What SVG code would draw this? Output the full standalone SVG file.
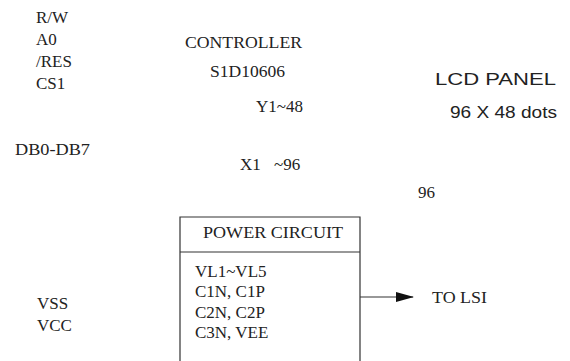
<svg xmlns="http://www.w3.org/2000/svg" width="570" height="361" viewBox="0 0 570 361">
  <defs>
    <style>
      .serif { font-family: "Liberation Serif", "Times New Roman", serif; font-size: 17px; fill: #222; }
      .sans { font-family: "Liberation Sans", Arial, sans-serif; font-size: 17px; fill: #222; }
      .line { stroke: #333; stroke-width: 1.2; fill: none; }
    </style>
    <marker id="arrow" markerWidth="18" markerHeight="10" refX="17" refY="5" orient="auto" markerUnits="userSpaceOnUse">
      <path d="M0,0 L18,5 L0,10 Z" fill="#111"/>
    </marker>
  </defs>
  <rect width="570" height="361" fill="#fff"/>

  <g id="mpu-signals">
    <text class="serif" x="36" y="23">R/W</text>
    <text class="serif" x="36" y="45">A0</text>
    <text class="serif" x="36" y="67">/RES</text>
    <text class="serif" x="36" y="89">CS1</text>
    <text class="serif" x="15" y="155" textLength="75" lengthAdjust="spacingAndGlyphs">DB0-DB7</text>
  </g>

  <g id="controller">
    <text class="serif" x="185" y="48" textLength="117" lengthAdjust="spacingAndGlyphs">CONTROLLER</text>
    <text class="serif" x="210" y="77" textLength="75" lengthAdjust="spacingAndGlyphs">S1D10606</text>
    <text class="serif" x="256" y="112">Y1~48</text>
    <text class="serif" x="240" y="170">X1<tspan x="274">~96</tspan></text>
  </g>

  <g id="lcd-panel">
    <text class="sans" x="435" y="85" textLength="121" lengthAdjust="spacingAndGlyphs">LCD PANEL</text>
    <text class="sans" x="450" y="118" textLength="107" lengthAdjust="spacingAndGlyphs">96 X 48 dots</text>
    <text class="serif" x="418" y="198">96</text>
  </g>

  <g id="power-circuit">
    <path class="line" d="M180,362 V217 H360 V362 M180,252 H360"/>
    <text class="serif" x="203" y="238" textLength="140" lengthAdjust="spacingAndGlyphs">POWER CIRCUIT</text>
    <text class="serif" x="195" y="277">VL1~VL5</text>
    <text class="serif" x="195" y="297">C1N, C1P</text>
    <text class="serif" x="195" y="318">C2N, C2P</text>
    <text class="serif" x="195" y="338">C3N,  VEE</text>
  </g>

  <g id="power-signals">
    <text class="serif" x="37" y="309">VSS</text>
    <text class="serif" x="37" y="331">VCC</text>
  </g>

  <g id="lsi">
    <text class="serif" x="432" y="303" textLength="55" lengthAdjust="spacingAndGlyphs">TO LSI</text>
  </g>

  <g id="connectors">
    <line class="line" x1="360" y1="297" x2="413" y2="297" marker-end="url(#arrow)"/>
  </g>
</svg>
